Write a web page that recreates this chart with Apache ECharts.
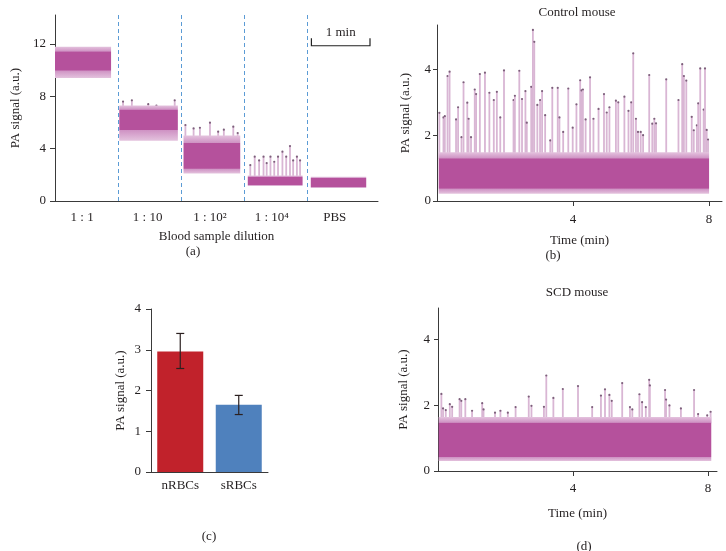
<!DOCTYPE html>
<html><head><meta charset="utf-8">
<script src="https://cdn.jsdelivr.net/npm/echarts@6/dist/echarts.min.js"></script>
<style>html,body{margin:0;padding:0;background:#fff}#c{width:726px;height:551px}</style>
</head><body><div id="c"></div>
<script>
// ---------- Panel (a): blood sample dilution ----------
const dilutionLabels = ['1 : 1', '1 : 10', '1 : 10\u00B2', '1 : 10\u2074', 'PBS'];
const dilutionLabelAt = [0.43, 1.47, 2.46, 3.44, 4.44];
const dilutionStart = [0.0, 1.02, 2.04, 3.06, 4.06];
const dilutionEnd = [0.89, 1.95, 2.94, 3.93, 4.94];
const dilutionCoreLow = [10.0, 5.45, 2.5, 1.25, 1.08];
const dilutionCoreHigh = [11.4, 6.95, 4.4, 1.84, 1.72];
const dilutionOuterLow = [9.4, 4.6, 2.1, 1.15, 1.0];
const dilutionOuterHigh = [11.8, 7.3, 5.0, 1.95, 1.85];
const dilutionSpikeX = [1.08, 1.22, 1.48, 1.61, 1.90,
  2.07, 2.20, 2.30, 2.46, 2.59, 2.68, 2.83, 2.90,
  3.10, 3.17, 3.24, 3.31, 3.36, 3.42, 3.48, 3.54, 3.61, 3.67, 3.73, 3.78, 3.84, 3.89];
const dilutionSpikeY = [7.6, 7.7, 7.4, 7.3, 7.7,
  5.81, 5.55, 5.60, 5.99, 5.30, 5.45, 5.68, 5.20,
  2.75, 3.39, 3.10, 3.39, 2.90, 3.39, 3.00, 3.39, 3.77, 3.39, 4.20, 3.10, 3.39, 3.10];
const dividers = [1, 2, 3, 4];
const scaleBar = {from: 4.07, to: 5.0, y: 11.87, tickTop: 12.44, textY: 12.85, text: '1 min'};

// ---------- Panel (b): control mouse ----------
const ctrlStart = 0.05, ctrlEnd = 8.0;
const ctrlCore = [0.39, 1.28];
const ctrlOuter = [0.22, 1.48];
const ctrlSpikeT = [0.07,0.19,0.23,0.31,0.37,0.56,0.62,0.72,0.78,0.89,0.93,1.0,1.11,1.15,1.26,1.41,1.54,1.67,1.76,1.86,1.97,2.25,2.29,2.42,2.50,2.60,2.64,2.77,2.82,2.86,2.95,3.03,3.09,3.18,3.33,3.39,3.55,3.60,3.71,3.86,3.99,4.10,4.21,4.25,4.29,4.37,4.50,4.60,4.75,4.91,4.99,5.07,5.26,5.33,5.51,5.63,5.71,5.77,5.85,5.91,5.99,6.06,6.24,6.33,6.39,6.44,6.74,7.10,7.21,7.26,7.33,7.49,7.55,7.64,7.68,7.74,7.84,7.88,7.93,7.97];
const ctrlSpikeV = [2.68,2.54,2.58,3.80,3.93,2.48,2.85,1.94,3.61,2.99,2.50,1.94,3.39,3.25,3.86,3.90,3.29,3.07,3.32,2.54,3.97,3.07,3.20,3.96,3.10,3.34,2.38,3.47,5.20,4.84,2.92,3.07,3.34,2.61,1.84,3.44,3.44,2.54,2.10,3.42,2.23,2.94,3.67,3.36,3.39,2.48,3.76,2.50,2.80,3.25,2.69,2.85,3.05,3.00,3.17,2.74,3.00,4.49,2.50,2.10,2.10,2.00,3.83,2.35,2.50,2.36,3.70,3.07,4.16,3.80,3.66,2.56,2.15,2.30,2.97,4.03,2.78,4.03,2.16,1.87];

// ---------- Panel (c): bars ----------
const cellTypes = ['nRBCs', 'sRBCs'];
const cellMeans = [2.96, 1.65];
const cellErrLow = [2.54, 1.41];
const cellErrHigh = [3.40, 1.88];

// ---------- Panel (d): SCD mouse ----------
const scdStart = 0.02, scdEnd = 8.1;
const scdCore = [0.44, 1.45];
const scdOuter = [0.30, 1.64];
const scdSpikeT = [0.10,0.15,0.23,0.35,0.42,0.64,0.69,0.81,1.01,1.31,1.35,1.69,1.85,2.07,2.30,2.69,2.77,3.14,3.21,3.42,3.70,4.15,4.57,4.83,4.95,5.08,5.15,5.46,5.69,5.76,5.97,6.05,6.16,6.26,6.28,6.73,6.76,6.86,7.20,7.59,7.71,7.98,8.08];
const scdSpikeV = [2.34,1.90,1.85,2.03,1.95,2.18,2.13,2.18,1.83,2.06,1.87,1.77,1.83,1.77,1.94,2.26,1.98,1.95,2.90,2.22,2.49,2.58,1.94,2.29,2.48,2.31,2.13,2.67,1.94,1.87,2.33,2.09,1.94,2.77,2.60,2.46,2.17,1.99,1.90,2.46,1.73,1.69,1.80];

// ---------- styles ----------
const FONT = 'Liberation Serif';
const TXT = '#231f20';
const AX = '#3a3a3a';
const CORE = '#b5519c';
const EDGE = '#e4c3de';
const SPIKE = '#d9b6d4';
const DOT = '#7d5f7b';
const DIV = '#5b9bd5';

// band: [x0, x1, outerLow, outerHigh, coreLow, coreHigh]
function bandItem(params, api) {
  const x0 = api.value(0), x1 = api.value(1), oLo = api.value(2), oHi = api.value(3), cLo = api.value(4), cHi = api.value(5);
  const p0 = api.coord([x0, oHi]);
  const p1 = api.coord([x1, oLo]);
  const span = oHi - oLo;
  const fTop = (oHi - cHi) / span, fBot = (oHi - cLo) / span;
  const grad = new echarts.graphic.LinearGradient(0, 0, 0, 1, [
    {offset: 0, color: EDGE},
    {offset: Math.max(0, fTop - 0.02), color: '#cf93c4'},
    {offset: fTop, color: CORE},
    {offset: fBot, color: CORE},
    {offset: Math.min(1, fBot + 0.02), color: '#cf93c4'},
    {offset: 1, color: EDGE}
  ]);
  return {type: 'rect', shape: {x: p0[0], y: p0[1], width: p1[0] - p0[0], height: p1[1] - p0[1]},
    style: {fill: grad}};
}
function spikeItem(params, api) {
  const p0 = api.coord([api.value(0), api.value(1)]);
  const p1 = api.coord([api.value(0), api.value(2)]);
  return {type: 'group', children: [
    {type: 'line', shape: {x1: p0[0], y1: p0[1], x2: p1[0], y2: p1[1]}, style: {stroke: SPIKE, lineWidth: 1.8}},
    {type: 'circle', shape: {cx: p1[0], cy: p1[1], r: 1.1}, style: {fill: DOT}}
  ]};
}
function bandSeries(idx, data, z) {
  return {type: 'custom', xAxisIndex: idx, yAxisIndex: idx, renderItem: bandItem, data: data,
    encode: {x: [0, 1], y: [2, 3]}, z: z, silent: true};
}
function spikeSeries(idx, data, z) {
  return {type: 'custom', xAxisIndex: idx, yAxisIndex: idx, renderItem: spikeItem, data: data,
    encode: {x: [0], y: [1, 2]}, z: z, silent: true};
}
const lab = (extra) => Object.assign({color: TXT, fontFamily: FONT, fontSize: 13}, extra || {});
const axLine = {show: true, lineStyle: {color: AX, width: 1}};
function valAxis(grid, min, max, extra) {
  return Object.assign({type: 'value', gridIndex: grid, min: min, max: max,
    axisLine: axLine, splitLine: {show: false},
    axisTick: {show: true, length: 5, lineStyle: {color: AX}},
    nameTextStyle: lab()}, extra);
}

const aBands = dilutionLabels.map((_, i) => [dilutionStart[i], dilutionEnd[i], dilutionOuterLow[i], dilutionOuterHigh[i], dilutionCoreLow[i], dilutionCoreHigh[i]]);
const aSpikes = dilutionSpikeX.map((x, k) => {
  let seg = 0;
  for (let i = 0; i < dilutionStart.length; i++) if (x >= dilutionStart[i] && x <= dilutionEnd[i]) seg = i;
  return [x, dilutionCoreHigh[seg], dilutionSpikeY[k]];
});
const bSpikes = ctrlSpikeT.map((t, k) => [t, ctrlCore[1], ctrlSpikeV[k]]);
const dSpikes = scdSpikeT.map((t, k) => [t, scdCore[1], scdSpikeV[k]]);
const Y_A_MAX = 14.22;

const chart = echarts.init(document.getElementById('c'));
chart.setOption({
  animation: false,
  backgroundColor: '#fff',
  grid: [
    {left: 55, top: 15, width: 323, height: 186},
    {left: 437, top: 25, width: 285, height: 176},
    {left: 151, top: 309, width: 117, height: 163},
    {left: 438, top: 308, width: 279, height: 163}
  ],
  xAxis: [
    valAxis(0, 0, 5.127, {name: 'Blood sample dilution', nameLocation: 'middle', nameGap: 29,
      axisTick: {show: false},
      axisLabel: Object.assign(lab(), {customValues: dilutionLabelAt, margin: 10,
        formatter: (v) => { const i = dilutionLabelAt.indexOf(v); return i >= 0 ? dilutionLabels[i] : ''; }})}),
    valAxis(1, 0, 8.38, {name: 'Time (min)', nameLocation: 'middle', nameGap: 33,
      axisTick: {show: true, length: 5, customValues: [4, 8], lineStyle: {color: AX}},
      axisLabel: Object.assign(lab(), {customValues: [4, 8], margin: 12})}),
    {type: 'category', gridIndex: 2, data: cellTypes, axisLine: axLine, axisTick: {show: false},
      axisLabel: lab({margin: 7})},
    valAxis(3, 0, 8.27, {name: 'Time (min)', nameLocation: 'middle', nameGap: 36,
      axisTick: {show: true, length: 5, customValues: [4, 8], lineStyle: {color: AX}},
      axisLabel: Object.assign(lab(), {customValues: [4, 8], margin: 11})})
  ],
  yAxis: [
    valAxis(0, 0, Y_A_MAX, {name: 'PA signal (a.u.)', nameLocation: 'middle', nameGap: 33,
      axisTick: {show: true, length: 5, customValues: [0, 4, 8, 12], lineStyle: {color: AX}},
      axisLabel: Object.assign(lab(), {customValues: [0, 4, 8, 12], margin: 9})}),
    valAxis(1, 0, 5.35, {name: 'PA signal (a.u.)', nameLocation: 'middle', nameGap: 25,
      axisTick: {show: true, length: 4, customValues: [0, 2, 4], lineStyle: {color: AX}},
      axisLabel: Object.assign(lab(), {customValues: [0, 2, 4], margin: 6})}),
    valAxis(2, 0, 4, {interval: 1, name: 'PA signal (a.u.)', nameLocation: 'middle', nameGap: 24,
      axisLabel: lab({margin: 10})}),
    valAxis(3, 0, 4.95, {name: 'PA signal (a.u.)', nameLocation: 'middle', nameGap: 28,
      axisTick: {show: true, length: 4, customValues: [0, 2, 4], lineStyle: {color: AX}},
      axisLabel: Object.assign(lab(), {customValues: [0, 2, 4], margin: 8})})
  ],
  series: [
    // panel (a)
    {type: 'custom', xAxisIndex: 0, yAxisIndex: 0, silent: true, z: 1,
      data: dividers.map(x => [x]), encode: {x: [0]},
      renderItem: (params, api) => {
        const lo = api.coord([api.value(0), 0]);
        const hi = api.coord([api.value(0), Y_A_MAX]);
        const x = Math.round(lo[0]) + 0.5;
        return {type: 'line', shape: {x1: x, y1: lo[1], x2: x, y2: hi[1]},
          style: {stroke: DIV, lineWidth: 1, lineDash: [4, 3]}};
      }},
    spikeSeries(0, aSpikes, 3),
    bandSeries(0, aBands, 4),
    {type: 'custom', xAxisIndex: 0, yAxisIndex: 0, silent: true, z: 5,
      data: [[scaleBar.from, scaleBar.to, scaleBar.y, scaleBar.tickTop, scaleBar.textY]],
      encode: {x: [0, 1], y: [2, 3]},
      renderItem: (params, api) => {
        const a = api.coord([api.value(0), api.value(3)]);
        const b = api.coord([api.value(0), api.value(2)]);
        const c = api.coord([api.value(1), api.value(2)]);
        const d = api.coord([api.value(1), api.value(3)]);
        const t = api.coord([(api.value(0) + api.value(1)) / 2, api.value(4)]);
        return {type: 'group', children: [
          {type: 'polyline', shape: {points: [a, b, c, d]}, style: {stroke: '#222', lineWidth: 1.2, fill: null}},
          {type: 'text', x: t[0], y: t[1], style: {text: scaleBar.text, fill: TXT, font: '13px "Liberation Serif"', align: 'center', verticalAlign: 'middle'}}
        ]};
      }},
    // panel (b)
    spikeSeries(1, bSpikes, 3),
    bandSeries(1, [[ctrlStart, ctrlEnd, ctrlOuter[0], ctrlOuter[1], ctrlCore[0], ctrlCore[1]]], 4),
    // panel (c)
    {type: 'bar', xAxisIndex: 2, yAxisIndex: 2, barWidth: 46, silent: true,
      data: cellMeans.map((v, i) => ({value: v, itemStyle: {color: i === 0 ? '#c1222b' : '#4f81bd'}}))},
    {type: 'custom', xAxisIndex: 2, yAxisIndex: 2, silent: true, z: 5,
      data: cellTypes.map((_, i) => [i, cellErrLow[i], cellErrHigh[i]]),
      encode: {x: [0], y: [1, 2]},
      renderItem: (params, api) => {
        const lo = api.coord([api.value(0), api.value(1)]);
        const hi = api.coord([api.value(0), api.value(2)]);
        const w = 4;
        const st = {stroke: '#2b2020', lineWidth: 1.2};
        return {type: 'group', children: [
          {type: 'line', shape: {x1: lo[0], y1: lo[1], x2: hi[0], y2: hi[1]}, style: st},
          {type: 'line', shape: {x1: lo[0] - w, y1: lo[1], x2: lo[0] + w, y2: lo[1]}, style: st},
          {type: 'line', shape: {x1: hi[0] - w, y1: hi[1], x2: hi[0] + w, y2: hi[1]}, style: st}
        ]};
      }},
    // panel (d)
    spikeSeries(3, dSpikes, 3),
    bandSeries(3, [[scdStart, scdEnd, scdOuter[0], scdOuter[1], scdCore[0], scdCore[1]]], 4)
  ],
  graphic: [
    {type: 'text', x: 193, y: 252, style: {text: '(a)', fill: TXT, font: '13px "Liberation Serif"', align: 'center', verticalAlign: 'middle'}},
    {type: 'text', x: 577, y: 13, style: {text: 'Control mouse', fill: TXT, font: '13px "Liberation Serif"', align: 'center', verticalAlign: 'middle'}},
    {type: 'text', x: 553, y: 256, style: {text: '(b)', fill: TXT, font: '13px "Liberation Serif"', align: 'center', verticalAlign: 'middle'}},
    {type: 'text', x: 209, y: 537, style: {text: '(c)', fill: TXT, font: '13px "Liberation Serif"', align: 'center', verticalAlign: 'middle'}},
    {type: 'text', x: 577, y: 293, style: {text: 'SCD mouse', fill: TXT, font: '13px "Liberation Serif"', align: 'center', verticalAlign: 'middle'}},
    {type: 'text', x: 584, y: 547, style: {text: '(d)', fill: TXT, font: '13px "Liberation Serif"', align: 'center', verticalAlign: 'middle'}}
  ]
});
</script></body></html>
